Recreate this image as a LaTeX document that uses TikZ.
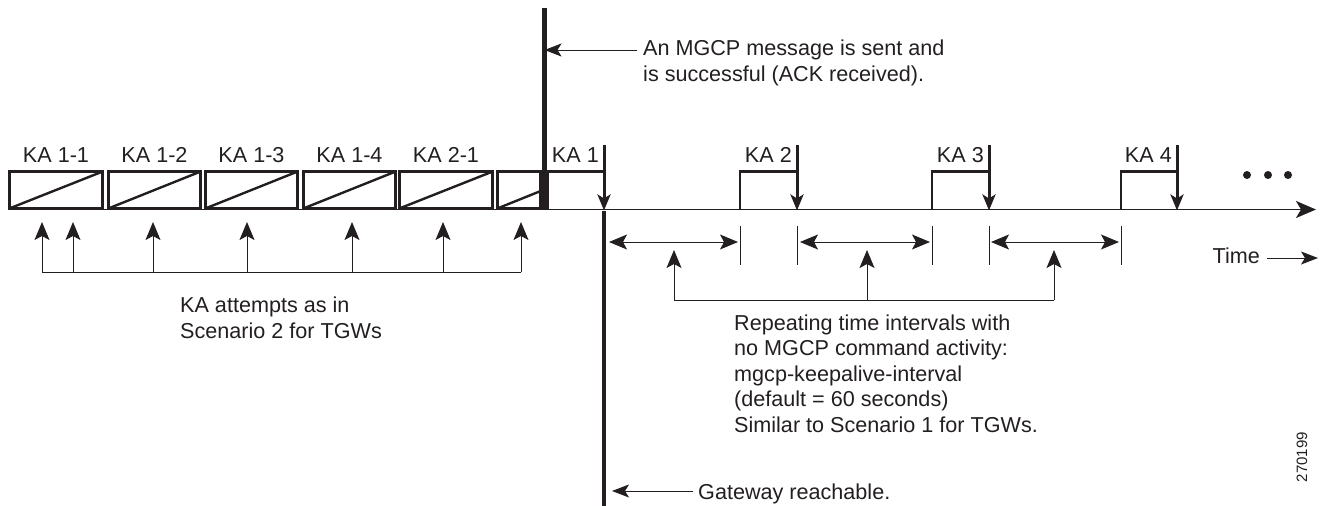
\documentclass[tikz,border=0pt]{standalone}
\usepackage{fontspec}
\setmainfont{Liberation Sans}
\usetikzlibrary{arrows.meta}
\definecolor{ink}{HTML}{231F20}
\begin{document}
\begin{tikzpicture}[x=1pt,y=-1pt,
  txt/.style={font=\fontsize{21.6}{25.5}\selectfont, text=ink, inner sep=0pt, align=left},
  kabox/.style={draw=ink, line width=2.6pt, minimum height=37pt, inner sep=0pt, outer sep=0pt},
  diag/.style={draw=ink, line width=2.4pt},
  edge/.style={draw=ink, line width=2.6pt},
  kaarrow/.style={draw=ink, line width=3pt, -{Stealth[length=16pt,width=13pt,inset=4pt]}},
  thin/.style={draw=ink, line width=1pt},
  uparrow/.style={draw=ink, line width=1pt, -{Stealth[length=18pt,width=15pt,inset=4pt]}},
  dblarrow/.style={draw=ink, line width=1pt, {Stealth[length=18pt,width=15pt,inset=4pt]}-{Stealth[length=18pt,width=15pt,inset=4pt]}},
  lblarrow/.style={draw=ink, line width=1pt, -{Stealth[length=17pt,width=13pt,inset=4pt]}},
  dot/.style={circle, fill=ink, inner sep=0pt, minimum size=8pt}
]
\useasboundingbox (0,0) rectangle (1323,506);

% failed attempt boxes
\node[kabox, minimum width=93.4pt] (b1) at (56,190) {};
\node[kabox, minimum width=92.4pt] (b2) at (154.5,190) {};
\node[kabox, minimum width=92.4pt] (b3) at (251.5,190) {};
\node[kabox, minimum width=92.4pt] (b4) at (349.5,190) {};
\node[kabox, minimum width=93.4pt] (b5) at (446,190) {};
\node[kabox, minimum width=43.4pt] (b6) at (519,190) {};
\foreach \b in {b1,b2,b3,b4,b5} \draw[diag] (\b.south west) -- (\b.north east);
\coordinate (b6d) at (540.7,191);
\draw[diag] (b6.south west) -- (b6d);

\coordinate (labline) at (0,162);
\foreach \b/\t in {b1/KA 1-1,b2/KA 1-2,b3/KA 1-3,b4/KA 1-4,b5/KA 2-1}
  \node[txt, anchor=base] (\b l) at (\b.north |- labline) {\t};

% time line
\coordinate (t0) at (8,209.5);
\coordinate (t1) at (1316,209.5);
\draw[draw=ink, line width=1.8pt, -{Stealth[length=20pt,width=17pt,inset=5pt]}] (t0) -- (t1);

% thick line: MGCP message sent
\coordinate (m0) at (544.5,8);
\coordinate (m1) at (544.5,209.5);
\draw[draw=ink, line width=4.5pt] (m0) -- (m1);

% successful keepalive boxes
\foreach \n/\l/\r in {1/548/604,2/740/797,3/932/989,4/1121/1177}{
  \coordinate (k\n bl) at (\l,209.5);
  \coordinate (k\n tl) at (\l,171.5);
  \coordinate (k\n tr) at (\r,171.5);
  \coordinate (k\n top) at (\r,145);
  \coordinate (k\n tip) at (\r,210.5);
  \draw[edge] (k\n bl) -- (k\n tl) -- (k\n tr);
  \draw[kaarrow] (k\n top) -- (k\n tip);
  \node[txt, anchor=base east] (k\n l) at (\r-5,162) {KA \n};
}
% gateway reachable line
\coordinate (g1) at (604,506);
\draw[draw=ink, line width=4pt] (k1tip) -- (g1);

% dots
\node[dot] (d1) at (1247,175) {};
\node[dot] (d2) at (1268,175) {};
\node[dot] (d3) at (1288,175) {};

% ticks
\foreach \x [count=\i] in {740,797,932,989,1121}{
  \coordinate (tk\i a) at (\x,226);
  \coordinate (tk\i b) at (\x,265);
  \draw[thin] (tk\i a) -- (tk\i b);
}
% interval double arrows
\coordinate (i1a) at (609,242); \coordinate (i1b) at (738,242);
\coordinate (i2a) at (800,242); \coordinate (i2b) at (930,242);
\coordinate (i3a) at (991,242); \coordinate (i3b) at (1119,242);
\draw[dblarrow] (i1a) -- (i1b);
\draw[dblarrow] (i2a) -- (i2b);
\draw[dblarrow] (i3a) -- (i3b);

% right-side pointer arrows
\coordinate (r1) at (674,300); \coordinate (r2) at (867,300); \coordinate (r3) at (1054,300);
\draw[thin] (r1) -- (r3);
\foreach \c in {r1,r2,r3} \draw[uparrow] (\c) -- ++(0,-50);

% left-side pointer arrows
\coordinate (l1) at (42,272); \coordinate (l7) at (521,272);
\draw[thin] (l1) -- (l7);
\foreach \x in {42,73,153,247,352,443,521} \draw[uparrow] (\x,272) -- (\x,222);

% texts (base anchor = baseline of the last line)
\node[txt, anchor=base west] (tleft) at (180,338) {KA attempts as in\\Scenario 2 for TGWs};
\node[txt, anchor=base west] (ttop) at (643,81) {An MGCP message is sent and\\is successful (ACK received).};
\coordinate (ta) at (637,50);
\draw[lblarrow] (ta) -- (m0 |- ta);
\node[txt, anchor=base west] (trep) at (734,432) {Repeating time intervals with\\no MGCP command activity:\\mgcp-keepalive-interval\\(default = 60 seconds)\\Similar to Scenario 1 for TGWs.};
\node[txt, anchor=base west] (tgw) at (698,499) {Gateway reachable.};
\coordinate (ga) at (693,491);
\draw[lblarrow] (ga) -- (612,491);
\node[txt, anchor=base east] (ttime) at (1260,263) {Time};
\coordinate (tma) at (1267,258); \coordinate (tmb) at (1318,258);
\draw[lblarrow] (tma) -- (tmb);
\node[txt, font=\fontsize{15}{17}\selectfont, rotate=90, anchor=center] (fig) at (1302,457) {270199};
\end{tikzpicture}
\end{document}
